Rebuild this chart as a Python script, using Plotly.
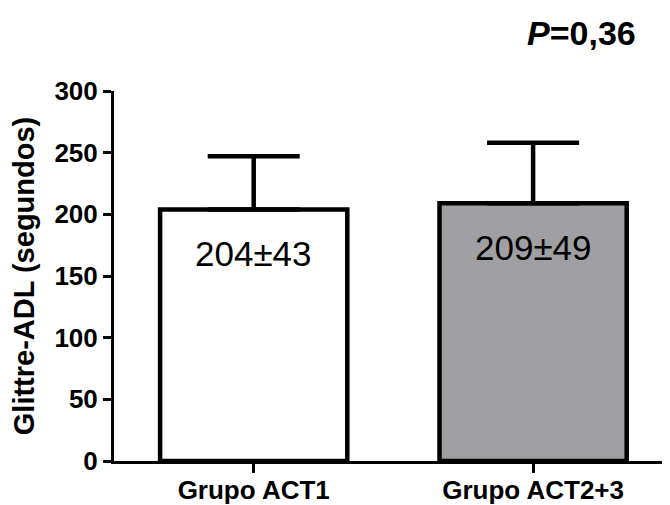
import plotly.graph_objects as go

categories = ["Grupo ACT1", "Grupo ACT2+3"]
means = [204, 209]
sds = [43, 49]
labels = ["204±43", "209±49"]
colors = ["#ffffff", "#a09fa4"]
y_ticks = [0, 50, 100, 150, 200, 250, 300]

FONT = "Liberation Sans, Arial"

fig = go.Figure()
fig.add_trace(go.Bar(
    x=categories, y=means, width=0.67,
    marker=dict(color=colors, line=dict(color="black", width=4.5)),
    error_y=dict(type="data", symmetric=False, array=sds, arrayminus=[0, 0],
                 color="black", thickness=4.5, width=46),
    showlegend=False,
))

for c, m, t in zip(categories, means, labels):
    fig.add_annotation(x=c, y=m, text=t, showarrow=False, yanchor="middle", yshift=-44,
                       font=dict(family=FONT, size=35, color="black"))

fig.add_annotation(xref="paper", yref="paper", x=0.84, y=1.157, text="<i>P</i>=0,36",
                   showarrow=False, xanchor="center", yanchor="middle",
                   font=dict(family=FONT, size=34, color="black", weight="bold"))

fig.update_layout(
    width=662, height=497,
    margin=dict(l=106, r=0, t=83, b=44, autoexpand=False),
    paper_bgcolor="white", plot_bgcolor="white",
    font=dict(family=FONT, color="black"),
    xaxis=dict(range=[-0.5, 1.49], showline=True, linecolor="black", linewidth=3,
               ticks="outside", ticklen=9, tickwidth=3, tickcolor="black",
               ticklabelstandoff=-5, automargin=False,
               tickfont=dict(size=26, weight="bold"), showgrid=False, zeroline=False),
    yaxis=dict(range=[0, 300], tickvals=y_ticks, showline=True, linecolor="black", linewidth=3,
               ticks="outside", ticklen=8, tickwidth=3, tickcolor="black", automargin=False,
               tickfont=dict(size=26, weight="bold"), showgrid=False, zeroline=False,
               title=dict(text="Glittre-ADL (segundos)", font=dict(size=29, weight="bold"), standoff=18)),
)

fig.write_html("out.html")
